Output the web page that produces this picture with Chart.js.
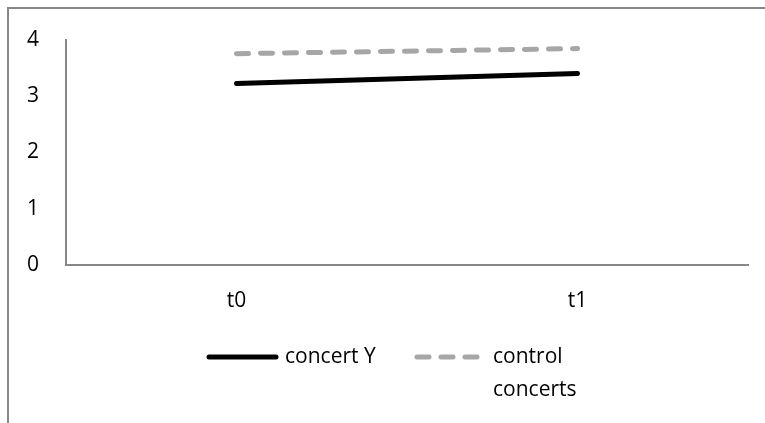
<!DOCTYPE html>
<html>
<head>
<meta charset="utf-8">
<script src="https://cdn.jsdelivr.net/npm/chart.js@4"></script>
<style>
    html, body { margin: 0; padding: 0; background: #fff; overflow: hidden; }
    #kader { position: absolute; left: 7px; top: 7px; width: 900px; height: 600px; border: 2px solid #878787; }
    #wrap { position: absolute; left: 0; top: 0; width: 765px; height: 423px; }
</style>
</head>
<body>
<div id="kader"></div>
<div id="wrap"><canvas id="grafiek" width="765" height="423"></canvas></div>
<script>
const momenten = ['t0', 't1'];
const concertY = [3.22, 3.40];
const controleConcerten = [3.75, 3.84];
const reeksNamen = [['concert Y'], ['control', 'concerts']];

const lettertype = '"Open Sans", sans-serif';

// legenda zelf tekenen, de tweede naam loopt over twee regels
const legendaPlugin = {
    id: 'legenda',
    afterDraw(chart) {
        const ctx = chart.ctx;
        const posities = [{ x: 207, tekst: 285 }, { x: 415, tekst: 493 }];
        ctx.save();
        chart.data.datasets.forEach((ds, i) => {
            const p = posities[i];
            const y = 357;
            ctx.beginPath();
            ctx.strokeStyle = ds.borderColor;
            ctx.lineWidth = ds.borderWidth;
            ctx.lineCap = 'round';
            ctx.setLineDash(ds.borderDash || []);
            ctx.moveTo(p.x + 2, y);
            ctx.lineTo(p.x + 69, y);
            ctx.stroke();
            ctx.setLineDash([]);
            ctx.fillStyle = '#000';
            ctx.font = '21px ' + lettertype;
            ctx.textBaseline = 'middle';
            reeksNamen[i].forEach((regel, r) => {
                ctx.fillText(regel, p.tekst, y + r * 33);
            });
        });
        ctx.restore();
    }
};

let config = {
    type: 'line',
    data: {
        labels: momenten,
        datasets: [{
            label: 'concert Y',
            data: concertY,
            borderColor: '#000000',
            borderWidth: 5,
            borderCapStyle: 'round',
            pointRadius: 0,
            fill: false
        }, {
            label: 'control concerts',
            data: controleConcerten,
            borderColor: '#a6a6a6',
            borderWidth: 5,
            borderDash: [12, 12],
            borderCapStyle: 'round',
            pointRadius: 0,
            fill: false
        }]
    },
    options: {
        responsive: false,
        animation: false,
        layout: {
            padding: { top: 39, right: 17, bottom: 108, left: 0 }
        },
        plugins: {
            legend: { display: false },
            tooltip: { enabled: false }
        },
        scales: {
            x: {
                offset: true,
                grid: { display: false, drawTicks: false },
                border: { display: true, color: '#878787', width: 2 },
                ticks: { color: '#000', font: { family: lettertype, size: 21 }, padding: 23 },
                afterFit: scale => { scale.height = 50; }
            },
            y: {
                min: 0,
                max: 4,
                grid: { display: false, drawTicks: false },
                border: { display: true, color: '#878787', width: 2 },
                ticks: { stepSize: 1, color: '#000', font: { family: lettertype, size: 21 }, padding: 27 },
                afterFit: scale => { scale.width = 66; }
            }
        }
    },
    plugins: [legendaPlugin]
};

let ctx = document.getElementById('grafiek').getContext('2d');
window.grafiek = new Chart(ctx, config);
</script>
</body>
</html>
